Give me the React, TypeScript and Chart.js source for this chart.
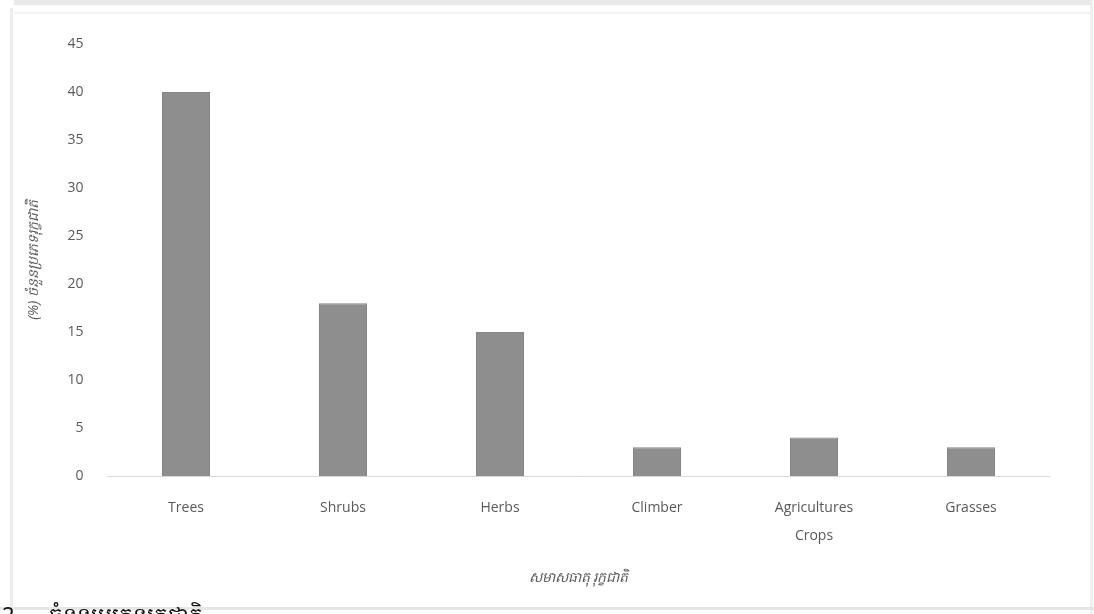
import React, { useEffect, useRef } from "react";
import { Chart, registerables } from "chart.js";

Chart.register(...registerables);

const categories: (string | string[])[] = ["Trees", "Shrubs", "Herbs", "Climber", ["Agricultures", "Crops"], "Grasses"];
const values: number[] = [40, 18, 15, 3, 4, 3];
const yTicks: number[] = [0, 5, 10, 15, 20, 25, 30, 35, 40, 45];
const yTitle = "(%) ចំនួនប្រភេទរុក្ខជាតិ";
const xTitle = "សមាសធាតុ រុក្ខជាតិ";
const caption = "2.     ចំនួនប្រភេទរុក្ខជាតិ";

export default function App() {
  const ref = useRef<HTMLCanvasElement | null>(null);
  useEffect(() => {
    if (!ref.current) return;
    const font = "'Open Sans', 'Noto Sans', sans-serif";
    const chart = new Chart(ref.current, {
      type: "bar",
      data: {
        labels: categories,
        datasets: [
          {
            data: values,
            backgroundColor: "#8e8e8e",
            borderColor: "#858585",
            borderWidth: 1,
            barPercentage: 0.306,
            categoryPercentage: 1,
          },
        ],
      },
      options: {
        animation: false,
        responsive: false,
        maintainAspectRatio: false,
        layout: { padding: { left: 0, top: 44, right: 44.5, bottom: 28 } },
        plugins: { legend: { display: false }, tooltip: { enabled: false } },
        scales: {
          x: {
            grid: { display: false, drawTicks: false },
            border: { display: true, color: "#d9d9d9", width: 1 },
            ticks: {
              color: "#595959",
              padding: 18,
              maxRotation: 0,
              autoSkip: false,
              font: { family: font, size: 14, lineHeight: 2 },
            },
            title: {
              display: true,
              text: xTitle,
              color: "#595959",
              padding: { top: 0, bottom: 0 },
              font: { family: font, size: 14, style: "italic" },
            },
            afterFit: (s: any) => {
              s.height = 614 - 476 - 28;
            },
          },
          y: {
            min: 0,
            max: 45,
            afterBuildTicks: (s: any) => {
              s.ticks = yTicks.map((v) => ({ value: v }));
            },
            grid: { display: false, drawTicks: false },
            border: { display: false },
            ticks: {
              color: "#595959",
              padding: 24,
              font: { family: font, size: 14 },
            },
            title: {
              display: true,
              text: yTitle,
              color: "#595959",
              padding: { top: 26, bottom: 0 },
              font: { family: font, size: 14, style: "italic" },
            },
            afterFit: (s: any) => {
              s.width = 107.5;
            },
          },
        },
      },
    });
    return () => chart.destroy();
  }, []);

  return (
    <div style={{ position: "fixed", left: 0, top: 0, width: 1094, height: 614, background: "#fff", overflow: "hidden" }}>
      <div style={{ position: "absolute", left: 14, top: 0, width: 1076, height: 5, background: "#e9e9e9" }} />
      <div style={{ position: "absolute", left: 14, top: 12, width: 1076, height: 2, background: "#f3f3f3" }} />
      <div style={{ position: "absolute", left: 10, top: 8, width: 3, height: 606, background: "#ececec" }} />
      <div style={{ position: "absolute", left: 1090, top: 0, width: 3, height: 614, background: "#efefef" }} />
      <div style={{ position: "absolute", left: 0, top: 607, width: 1094, height: 3, background: "#e6e6e6" }} />
      <canvas ref={ref} width={1094} height={614} style={{ position: "absolute", left: 0, top: 0, width: 1094, height: 614 }} />
      <div
        style={{
          position: "absolute",
          left: 2,
          top: 599,
          fontFamily: "'Noto Sans', sans-serif",
          fontSize: 22,
          color: "#111",
          whiteSpace: "pre",
          lineHeight: "30px",
        }}
      >
        {caption}
      </div>
    </div>
  );
}
